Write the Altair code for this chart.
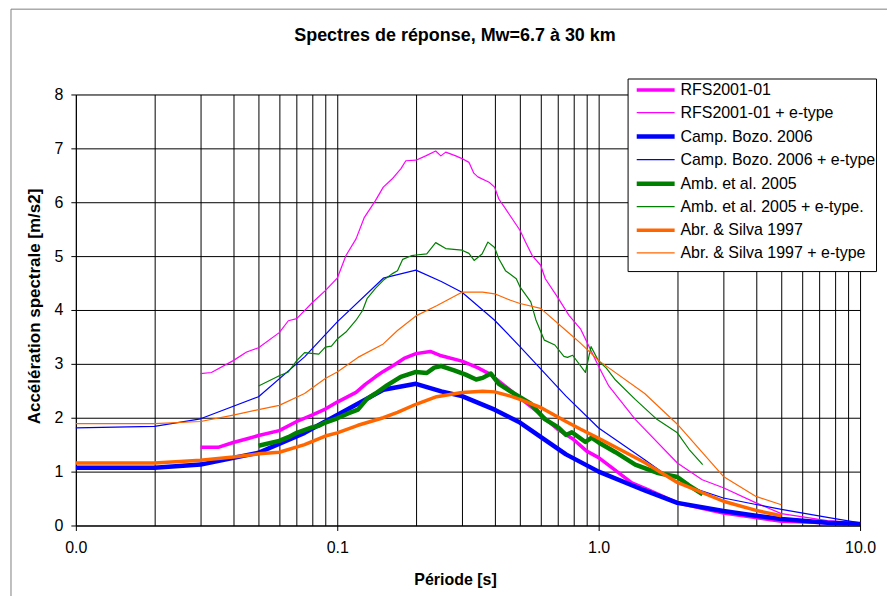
import altair as alt
import pandas as pd

series_names = [
    "RFS2001-01", "RFS2001-01 + e-type",
    "Camp. Bozo. 2006", "Camp. Bozo. 2006 + e-type",
    "Amb. et al. 2005", "Amb. et al. 2005 + e-type.",
    "Abr. & Silva 1997", "Abr. & Silva 1997 + e-type",
]
series_colors = ["#FF00FF", "#FF00FF", "#0000FF", "#0000FF",
                 "#008000", "#008000", "#FF6600", "#FF6600"]
series_widths = [3.5, 1.2, 4.5, 1.2, 4.5, 1.2, 3.5, 1.2]

rfs_T = [0.03, 0.035, 0.04, 0.046, 0.05, 0.06, 0.07, 0.08, 0.09, 0.1, 0.118, 0.128,
         0.14, 0.15, 0.165, 0.18, 0.2, 0.227, 0.25, 0.3, 0.344, 0.387, 0.4, 0.5,
         0.6, 0.7, 0.8, 0.9, 1.0, 1.34, 1.55, 2.0, 3.0, 5.0, 10.0]
rfs_A = [1.45, 1.45, 1.54, 1.62, 1.67, 1.76, 1.93, 2.05, 2.16, 2.29, 2.47, 2.62,
         2.76, 2.86, 2.98, 3.10, 3.19, 3.23, 3.15, 3.05, 2.93, 2.80, 2.74, 2.37,
         2.06, 1.78, 1.60, 1.38, 1.26, 0.79, 0.66, 0.42, 0.23, 0.08, 0.03]

rfs_sd_T = [0.03, 0.033, 0.04, 0.045, 0.05, 0.06, 0.065, 0.07, 0.08, 0.09, 0.1, 0.108,
            0.118, 0.127, 0.14, 0.15, 0.162, 0.175, 0.183, 0.2, 0.218, 0.238, 0.249,
            0.26, 0.284, 0.3, 0.319, 0.333, 0.345, 0.381, 0.4, 0.415, 0.44, 0.481,
            0.5, 0.525, 0.557, 0.6, 0.625, 0.7, 0.77, 0.852, 1.0, 1.093, 1.38, 2.0,
            2.49, 3.0, 4.0, 5.0, 7.5, 10.0]
rfs_sd_A = [2.82, 2.84, 3.06, 3.22, 3.30, 3.58, 3.80, 3.84, 4.13, 4.36, 4.59, 5.01,
            5.32, 5.72, 6.03, 6.28, 6.43, 6.62, 6.77, 6.78, 6.86, 6.95, 6.86,
            6.93, 6.86, 6.81, 6.74, 6.54, 6.47, 6.37, 6.28, 6.06, 5.88, 5.60,
            5.48, 5.26, 5.01, 4.83, 4.58, 4.22, 3.90, 3.65, 2.95, 2.59, 1.97, 1.16,
            0.85, 0.70, 0.42, 0.22, 0.09, 0.05]

cb_T = [0.01, 0.02, 0.03, 0.05, 0.075, 0.1, 0.15, 0.2, 0.25, 0.3, 0.4, 0.5,
        0.75, 1.0, 1.5, 2.0, 3.0, 4.0, 5.0, 7.5, 10.0]
cb_A = [1.07, 1.07, 1.13, 1.35, 1.72, 2.05, 2.52, 2.63, 2.49, 2.40, 2.15, 1.91,
        1.32, 1.00, 0.65, 0.42, 0.27, 0.18, 0.12, 0.05, 0.03]
cb_sd_A = [1.81, 1.84, 1.98, 2.39, 3.13, 3.78, 4.59, 4.74, 4.53, 4.33, 3.81, 3.32,
           2.40, 1.81, 1.22, 0.79, 0.51, 0.39, 0.30, 0.15, 0.05]

amb_T = [0.05, 0.06, 0.065, 0.07, 0.08, 0.085, 0.09, 0.1, 0.11, 0.12, 0.13, 0.14,
         0.155, 0.175, 0.2, 0.22, 0.235, 0.25, 0.28, 0.31, 0.34, 0.36, 0.387,
         0.415, 0.47, 0.55, 0.62, 0.7, 0.75, 0.79, 0.89, 0.94, 1.0, 1.16, 1.38,
         1.67, 2.0, 2.22, 2.5]
amb_A = [1.48, 1.57, 1.64, 1.72, 1.82, 1.85, 1.91, 1.99, 2.08, 2.15, 2.35, 2.45,
         2.60, 2.76, 2.85, 2.83, 2.93, 2.96, 2.88, 2.80, 2.71, 2.74, 2.82,
         2.63, 2.46, 2.26, 1.98, 1.82, 1.68, 1.73, 1.55, 1.63, 1.54, 1.36, 1.13,
         0.98, 0.90, 0.74, 0.58]

amb_sd_T = [0.05, 0.06, 0.065, 0.07, 0.075, 0.085, 0.09, 0.095, 0.1, 0.108, 0.118,
            0.125, 0.13, 0.14, 0.15, 0.162, 0.17, 0.178, 0.193, 0.2, 0.22, 0.238,
            0.26, 0.3, 0.319, 0.334, 0.358, 0.377, 0.4, 0.415, 0.44, 0.484, 0.5,
            0.55, 0.575, 0.6, 0.62, 0.68, 0.736, 0.76, 0.795, 0.89, 0.935, 1.0,
            1.07, 1.16, 1.38, 1.67, 2.0, 2.22, 2.5]
amb_sd_A = [2.59, 2.78, 2.85, 3.06, 3.21, 3.18, 3.31, 3.33, 3.46, 3.59, 3.81,
            3.99, 4.21, 4.40, 4.55, 4.67, 4.73, 4.94, 5.01, 5.02, 5.04, 5.25,
            5.14, 5.11, 5.05, 4.92, 5.04, 5.26, 5.16, 4.95, 4.73, 4.58, 4.43,
            4.15, 3.82, 3.60, 3.44, 3.35, 3.14, 3.12, 3.16, 2.84, 3.32, 3.05,
            2.92, 2.70, 2.34, 1.97, 1.72, 1.41, 1.13]

as_T = [0.01, 0.02, 0.03, 0.04, 0.05, 0.06, 0.075, 0.09, 0.1, 0.12, 0.15, 0.17,
        0.2, 0.24, 0.3, 0.36, 0.4, 0.46, 0.5, 0.6, 0.75, 0.85, 1.0, 1.5, 2.0,
        3.0, 4.0, 5.0]
as_A = [1.16, 1.16, 1.21, 1.27, 1.33, 1.36, 1.50, 1.66, 1.72, 1.86, 2.00, 2.10,
        2.25, 2.39, 2.47, 2.49, 2.48, 2.40, 2.34, 2.19, 1.93, 1.79, 1.62, 1.17,
        0.80, 0.45, 0.28, 0.18]
as_sd_A = [1.89, 1.89, 1.93, 2.05, 2.15, 2.23, 2.45, 2.73, 2.85, 3.12, 3.37, 3.62,
           3.89, 4.08, 4.33, 4.33, 4.30, 4.18, 4.12, 4.03, 3.62, 3.39, 3.06, 2.45,
           1.88, 0.91, 0.54, 0.385]

series_data = [
    (rfs_T, rfs_A), (rfs_sd_T, rfs_sd_A),
    (cb_T, cb_A), (cb_T, cb_sd_A),
    (amb_T, amb_A), (amb_sd_T, amb_sd_A),
    (as_T, as_A), (as_T, as_sd_A),
]

rows = []
for name, (ts, vals) in zip(series_names, series_data):
    for i, (t, a) in enumerate(zip(ts, vals)):
        rows.append({"serie": name, "T": t, "A": a, "i": i})
df = pd.DataFrame(rows)

x_grid_values = [m * 10 ** e for e in (-2, -1, 0) for m in range(1, 10)] + [10]
FONT = "Liberation Sans"
decade_test = "abs(log(datum.value)/LN10 - round(log(datum.value)/LN10)) < 0.001"

# blank bottom title: only used to give the legend box its width and bottom margin
legend_spacer = " " * 116

legend = alt.Legend(
    title=legend_spacer, titleOrient="bottom", titleFontSize=8, titlePadding=2,
    titleLimit=1000, titleFont=FONT,
    orient="none", legendX=553, legendY=-16,
    symbolType="M-0.3,0H3.7", symbolSize=361, labelFontSize=16, labelFont=FONT,
    labelColor="black", labelOffset=29, rowPadding=3.6, padding=0,
    strokeColor="black", fillColor="white", labelLimit=400,
)

lines = alt.Chart(df).mark_line(strokeJoin="round").encode(
    x=alt.X("T:Q",
            scale=alt.Scale(type="log", domain=[0.01, 10], nice=False),
            axis=alt.Axis(values=x_grid_values, grid=True, gridColor="black",
                          gridOpacity=1, gridWidth=1,
                          tickColor={"condition": {"test": decade_test, "value": "black"},
                                     "value": "transparent"},
                          tickSize=5, labelExpr=f"{decade_test} ? format(datum.value, '.1f') : ''",
                          labelFlush=False, labelOverlap=False, labelPadding=9,
                          labelFontSize=16, labelFont=FONT, labelColor="black",
                          title="Période [s]", titleFont=FONT, titleFontSize=16,
                          titleFontWeight="bold", titleColor="black",
                          titleX=380, titleY=54, titleBaseline="middle",
                          domainColor="black")),
    y=alt.Y("A:Q",
            scale=alt.Scale(domain=[0, 8], nice=False),
            axis=alt.Axis(values=list(range(9)), grid=True, gridColor="black",
                          gridOpacity=1, tickColor="black", tickSize=5,
                          labelPadding=8, labelFontSize=16, labelFont=FONT,
                          labelColor="black",
                          title="Accélération spectrale [m/s2]", titleFont=FONT,
                          titleFontSize=17, titleFontWeight="bold", titleColor="black",
                          titleX=-41, titleY=212, titleAngle=-90,
                          titleAlign="center", titleBaseline="middle",
                          domainColor="black")),
    color=alt.Color("serie:N", scale=alt.Scale(domain=series_names, range=series_colors),
                    legend=legend),
    strokeWidth=alt.StrokeWidth("serie:N",
                                scale=alt.Scale(type="ordinal", domain=series_names,
                                                range=series_widths),
                                legend=legend),
    order="i:Q",
)

frame = pd.DataFrame({"k": [0]})
left_border = alt.Chart(frame).mark_rule(color="#808080", strokeWidth=1).encode(
    x=alt.value(-65), y=alt.value(-85.5), y2=alt.value(600))
top_border = alt.Chart(frame).mark_rule(color="#808080", strokeWidth=1).encode(
    x=alt.value(-65), x2=alt.value(900), y=alt.value(-85.5))
title = alt.Chart(frame).mark_text(
    text="Spectres de réponse, Mw=6.7 à 30 km", font=FONT, fontSize=18,
    fontWeight="bold", align="center", baseline="alphabetic", color="black"
).encode(x=alt.value(380), y=alt.value(-53.5))

chart = alt.layer(left_border, top_border, lines, title).properties(
    width=786, height=432,
    autosize=alt.AutoSizeParams(type="none"),
    padding={"left": 68, "top": 86, "right": 27, "bottom": 70},
).configure_view(stroke="black", strokeWidth=1).configure(background="white")

chart.save("out.html", embed_options={"renderer": "svg", "actions": False})
